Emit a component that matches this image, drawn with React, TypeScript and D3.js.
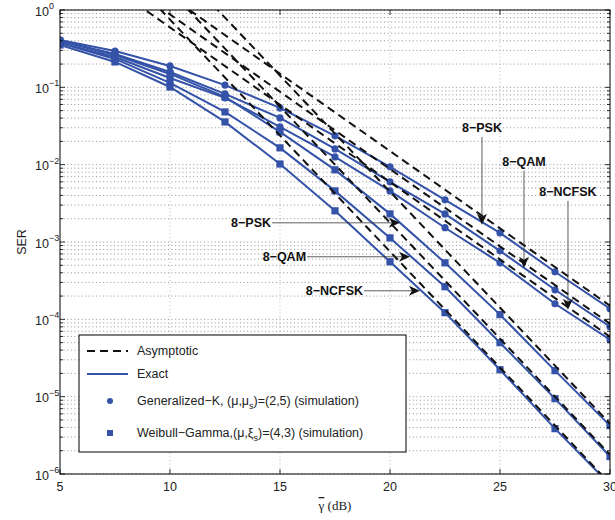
import React from 'react';
import * as d3 from 'd3';

// average SNR (dB) where the exact curves are sampled
const snr = [5, 7.5, 10, 12.5, 15, 17.5, 20, 22.5, 25, 27.5, 30];

// Generalized-K exact SER
const gkPsk = [0.41, 0.295, 0.189, 0.107, 0.0542, 0.0236, 0.00937, 0.00351, 0.00131, 4.12e-4, 1.37e-4];
const gkQam = [0.397, 0.27, 0.158, 0.0822, 0.0402, 0.016, 0.006, 0.00231, 7.69e-4, 2.41e-4, 8.02e-5];
const gkNcfsk = [0.375, 0.247, 0.132, 0.073, 0.0308, 0.0126, 0.00458, 0.00153, 5.38e-4, 1.59e-4, 5.45e-5];

// Weibull-Gamma exact SER
const wgPsk = [0.397, 0.262, 0.149, 0.0752, 0.0265, 0.00857, 0.00231, 5.38e-4, 1.15e-4, 2.17e-5, 4.22e-6];
const wgQam = [0.375, 0.233, 0.114, 0.0481, 0.0165, 0.00458, 0.00113, 2.64e-4, 4.99e-5, 9.42e-6, 1.68e-6];
const wgNcfsk = [0.353, 0.213, 0.101, 0.0357, 0.0102, 0.00253, 5.55e-4, 1.22e-4, 2.23e-5, 3.86e-6, 7.3e-7];

// asymptotes (straight in dB / log scale), given at two SNR points
const asymSnr = [7.5, 30];
const asymGkPsk = [4.74, 1.5e-4];
const asymGkQam = [2.77, 8.77e-5];
const asymGkNcfsk = [1.885, 5.96e-5];
const asymWgPsk = [25.2, 4.48e-6];
const asymWgQam = [10.0, 1.78e-6];
const asymWgNcfsk = [4.23, 7.52e-7];

const xTicks = [5, 10, 15, 20, 25, 30];
const yDecades = [0, -1, -2, -3, -4, -5, -6];

// annotations: [label, x(dB), y(SER)] for text anchor, arrow from -> to
const leftNotes = [
  { label: '8\u2212PSK', y: 1.77e-3, x0: 14.64, x1: 20.45 },
  { label: '8\u2212QAM', y: 6.44e-4, x0: 16.23, x1: 20.91 },
  { label: '8\u2212NCFSK', y: 2.34e-4, x0: 18.82, x1: 21.36 },
];
const rightNotes = [
  { label: '8\u2212PSK', x: 24.18, yText: 2.99e-2, y1: 1.67e-3 },
  { label: '8\u2212QAM', x: 26.09, yText: 1.09e-2, y1: 4.64e-4 },
  { label: '8\u2212NCFSK', x: 28.09, yText: 4.45e-3, y1: 1.33e-4 },
];

const W = 615;
const H = 520;
const left = 60, right = 610, top = 10, bottom = 474;
const blue = '#3352a8';
const font = '"Liberation Sans", Arial, sans-serif';

export default function App() {
  const x = d3.scaleLinear().domain([5, 30]).range([left, right]);
  const y = d3.scaleLog().domain([1e-6, 1]).range([bottom, top]);

  const line = d3.line<[number, number]>()
    .x(d => x(d[0]))
    .y(d => y(d[1]));

  const exact = [gkPsk, gkQam, gkNcfsk, wgPsk, wgQam, wgNcfsk];
  const asym = [asymGkPsk, asymGkQam, asymGkNcfsk, asymWgPsk, asymWgQam, asymWgNcfsk];

  const minor: number[] = [];
  for (let e = -6; e < 0; e++) {
    for (let k = 1; k <= 9; k++) minor.push(k * Math.pow(10, e));
  }
  minor.push(1);

  const arrowHead = (tx: number, ty: number, dir: 'right' | 'down') => {
    const L = 11, Wd = 5, back = 3;
    if (dir === 'right') {
      return `M${tx},${ty} L${tx - L},${ty - Wd} L${tx - L + back},${ty} L${tx - L},${ty + Wd} Z`;
    }
    return `M${tx},${ty} L${tx - Wd},${ty - L} L${tx},${ty - L + back} L${tx + Wd},${ty - L} Z`;
  };

  return (
    <div style={{ position: 'absolute', left: 0, top: 0 }}>
      <svg width={W} height={H} style={{ display: 'block', background: '#fff' }}>
        <defs>
          <clipPath id="plot">
            <rect x={left} y={top} width={right - left} height={bottom - top} />
          </clipPath>
        </defs>

        {/* grid */}
        <g stroke="#666" strokeWidth={0.7} strokeDasharray="1,2.6">
          {minor.map((v, i) => (
            <line key={'h' + i} x1={left} x2={right} y1={y(v)} y2={y(v)} />
          ))}
          {xTicks.slice(1, -1).map(t => (
            <line key={'v' + t} x1={x(t)} x2={x(t)} y1={top} y2={bottom} stroke="#999" />
          ))}
        </g>

        {/* curves */}
        <g clipPath="url(#plot)">
          {exact.map((s, i) => (
            <path key={'e' + i} d={line(snr.map((v, j) => [v, s[j]] as [number, number])) || ''}
              fill="none" stroke={blue} strokeWidth={2} />
          ))}
          {exact.slice(0, 3).map((s, i) => snr.map((v, j) => (
            <circle key={'c' + i + '-' + j} cx={x(v)} cy={y(s[j])} r={3.6} fill={blue} />
          )))}
          {exact.slice(3).map((s, i) => snr.map((v, j) => (
            <rect key={'s' + i + '-' + j} x={x(v) - 3.6} y={y(s[j]) - 3.6} width={7.2} height={7.2} fill={blue} />
          )))}
          {asym.map((s, i) => (
            <path key={'a' + i} d={line(asymSnr.map((v, j) => [v, s[j]] as [number, number])) || ''}
              fill="none" stroke="#111" strokeWidth={2} strokeDasharray="8,5" />
          ))}
        </g>

        {/* annotations */}
        <g fontFamily={font} fontWeight="bold" fontSize={12.5} fill="#111">
          {leftNotes.map(n => (
            <g key={'l' + n.label}>
              <text x={x(n.x0) - 1} y={y(n.y) + 4.5} textAnchor="end">{n.label}</text>
              <line x1={x(n.x0)} x2={x(n.x1) - 8} y1={y(n.y)} y2={y(n.y)} stroke="#333" strokeWidth={0.8} />
              <path d={arrowHead(x(n.x1), y(n.y), 'right')} fill="#111" />
            </g>
          ))}
          {rightNotes.map(n => (
            <g key={'r' + n.label}>
              <text x={x(n.x)} y={y(n.yText) + 4.5} textAnchor="middle">{n.label}</text>
              <line x1={x(n.x)} x2={x(n.x)} y1={y(n.yText) + 9} y2={y(n.y1) - 8} stroke="#333" strokeWidth={0.8} />
              <path d={arrowHead(x(n.x), y(n.y1), 'down')} fill="#111" />
            </g>
          ))}
        </g>

        {/* axes box and ticks */}
        <rect x={left} y={top} width={right - left} height={bottom - top} fill="none" stroke="#000" strokeWidth={1} />
        <g stroke="#000" strokeWidth={0.8}>
          {xTicks.map(t => (
            <g key={'xt' + t}>
              <line x1={x(t)} x2={x(t)} y1={bottom} y2={bottom - 5} />
              <line x1={x(t)} x2={x(t)} y1={top} y2={top + 5} />
            </g>
          ))}
          {minor.map((v, i) => {
            const major = Math.abs(Math.log10(v) - Math.round(Math.log10(v))) < 1e-9;
            const len = major ? 5 : 3;
            return (
              <g key={'yt' + i}>
                <line x1={left} x2={left + len} y1={y(v)} y2={y(v)} />
                <line x1={right} x2={right - len} y1={y(v)} y2={y(v)} />
              </g>
            );
          })}
        </g>

        {/* tick labels */}
        <g fontFamily={font} fontSize={12.5} fill="#222">
          {xTicks.map(t => (
            <text key={'xl' + t} x={x(t)} y={bottom + 17} textAnchor="middle">{t}</text>
          ))}
          {yDecades.map(e => (
            <text key={'yl' + e} x={35} y={y(Math.pow(10, e)) + 5.5}>
              10
              <tspan fontSize={9} dy={-6.5}>{e === 0 ? '0' : '\u2212' + -e}</tspan>
            </text>
          ))}
        </g>

        {/* axis labels */}
        <text x={22} y={(top + bottom) / 2} fontFamily={font} fontSize={12.5} fill="#222"
          textAnchor="middle" transform={`rotate(-90 22 ${(top + bottom) / 2})`} dy={4}>SER</text>
        <text x={(left + right) / 2} y={510} fontFamily='"Liberation Serif", "Times New Roman", serif'
          fontSize={13} fill="#222" textAnchor="middle">
          <tspan textDecoration="overline">{'\u03b3'}</tspan> (dB)
        </text>

        {/* legend */}
        <g>
          <rect x={79} y={335} width={327} height={117} fill="#fff" stroke="#000" strokeWidth={1} />
          <line x1={87} x2={128} y1={351} y2={351} stroke="#111" strokeWidth={2} strokeDasharray="8,5" />
          <line x1={87} x2={128} y1={374} y2={374} stroke={blue} strokeWidth={2} />
          <circle cx={110} cy={401} r={3} fill={blue} />
          <rect x={107} y={430} width={6} height={6} fill={blue} />
          <g fontFamily={font} fontSize={12.5} fill="#222">
            <text x={137} y={355}>Asymptotic</text>
            <text x={137} y={378}>Exact</text>
            <text x={137} y={405}>
              Generalized{'\u2212'}K, ({'\u03bc'},{'\u03bc'}<tspan fontSize={9} dy={4}>s</tspan><tspan dy={-4}>)=(2,5) (simulation)</tspan>
            </text>
            <text x={137} y={437}>
              Weibull{'\u2212'}Gamma,({'\u03bc'},{'\u03be'}<tspan fontSize={9} dy={4}>s</tspan><tspan dy={-4}>)=(4,3) (simulation)</tspan>
            </text>
          </g>
        </g>
      </svg>
    </div>
  );
}
